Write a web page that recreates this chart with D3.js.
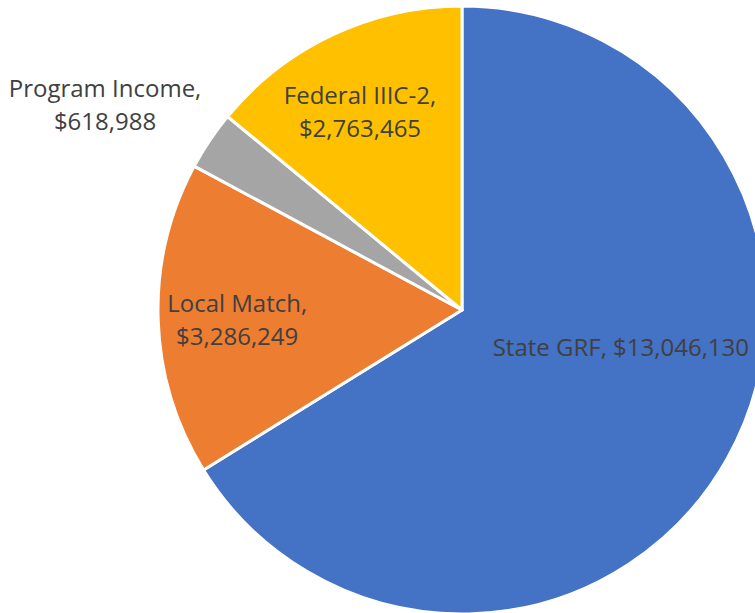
<!DOCTYPE html>
<html><head><meta charset="utf-8">
<script src="https://cdn.jsdelivr.net/npm/d3@7"></script>
<style>html,body{margin:0;padding:0;background:#fff;}svg{display:block;}</style>
</head><body>
<svg id="chart" width="755" height="613"></svg>
<script>
const categories = ["State GRF", "Local Match", "Program Income", "Federal IIIC-2"];
const values = [13046130, 3286249, 618988, 2763465];
const colors = ["#4472C4", "#ED7D31", "#A5A5A5", "#FFC000"];
// label placement: angle in degrees clockwise from top, distance as fraction of radius (baseline midpoint)
const labelLayout = [
  {angle: 106.1, dist: 0.544, lines: 1},
  {angle: 265.4, dist: 0.742, lines: 2},
  {angle: 298.8, dist: 1.340, lines: 2},
  {angle: 331.7, dist: 0.708, lines: 2}
];

const W = 755, H = 613;
const cx = 462, cy = 310, R = 304;
const svg = d3.select("#chart");
const g = svg.append("g").attr("transform", `translate(${cx},${cy})`);
const data = categories.map((c, i) => ({cat: c, value: values[i], color: colors[i], layout: labelLayout[i]}));
const pie = d3.pie().value(d => d.value).sort(null);
const arc = d3.arc().innerRadius(0).outerRadius(R);
const arcs = pie(data);
g.selectAll("path").data(arcs).join("path")
  .attr("d", arc).attr("fill", d => d.data.color)
  .attr("stroke", "#fff").attr("stroke-width", 3).attr("stroke-linejoin", "round");

const fmt = d3.format("$,");
const fs = 24, lh = 33;
arcs.forEach(a => {
  const L = a.data.layout;
  const ang = L.angle * Math.PI / 180;
  const x = Math.sin(ang) * L.dist * R, y = -Math.cos(ang) * L.dist * R;
  const lines = L.lines === 1 ? [a.data.cat + ", " + fmt(a.data.value)] : [a.data.cat + ",", fmt(a.data.value)];
  const t = g.append("text").attr("text-anchor", "middle")
    .attr("font-family", "'Open Sans', sans-serif").attr("font-size", fs).attr("fill", "#404040");
  lines.forEach((ln, i) => {
    t.append("tspan").attr("x", x).attr("y", y + (i - (lines.length - 1) / 2) * lh).text(ln);
  });
});
</script>
</body></html>
